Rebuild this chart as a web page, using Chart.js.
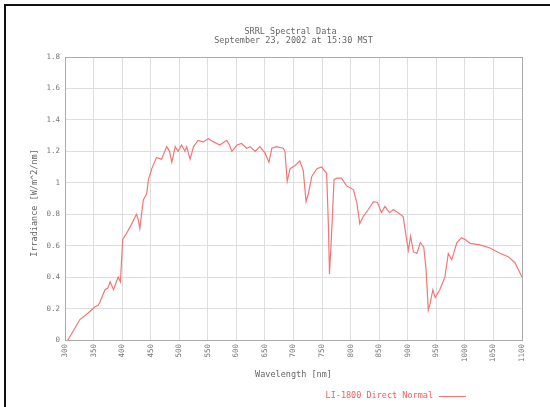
<!DOCTYPE html>
<html>
<head>
<meta charset="utf-8">
<script src="https://cdn.jsdelivr.net/npm/chart.js@4"></script>
<style>
html,body{margin:0;padding:0;background:#fff;}
#wrap{width:550px;height:407px;position:relative;}
</style>
</head>
<body>
<div id="wrap"><canvas id="c" width="550" height="407"></canvas></div>
<script>
const titleLines = ["SRRL Spectral Data", "September 23, 2002 at 15:30 MST"];
const xTitle = "Wavelength [nm]";
const yTitle = "Irradiance [W/m^2/nm]";
const seriesName = "LI-1800 Direct Normal";

const wavelength = [305,315,326,340,352,358,361,370,375,379,385,390,393,397,401,408,417,425,428,431,437,443,446,452,460,469,478,483,487,493,498,504,510,513,519,525,533,542,551,560,571,583,588,592,601,609,618,624,633,641,650,657,662,670,682,685,689,694,703,711,717,722,726,732,741,749,758,761,763,767,771,776,784,793,805,811,816,822,831,840,847,854,860,868,875,883,892,898,901,905,910,916,922,928,932,936,939,944,948,956,965,971,977,986,994,1000,1009,1026,1044,1062,1076,1088,1100];
const irradiance = [0.0,0.06,0.13,0.17,0.21,0.22,0.24,0.32,0.33,0.37,0.32,0.37,0.40,0.37,0.64,0.68,0.74,0.80,0.77,0.71,0.89,0.93,1.02,1.09,1.16,1.15,1.23,1.20,1.13,1.23,1.20,1.24,1.20,1.23,1.15,1.23,1.27,1.26,1.28,1.26,1.24,1.27,1.24,1.20,1.24,1.25,1.22,1.23,1.20,1.23,1.19,1.13,1.22,1.23,1.22,1.20,1.01,1.09,1.11,1.14,1.08,0.88,0.93,1.04,1.09,1.10,1.06,0.74,0.42,0.70,1.02,1.03,1.03,0.98,0.955,0.87,0.74,0.785,0.83,0.88,0.875,0.81,0.85,0.81,0.83,0.81,0.785,0.64,0.57,0.66,0.56,0.55,0.62,0.59,0.45,0.19,0.23,0.32,0.27,0.32,0.40,0.55,0.51,0.62,0.65,0.64,0.615,0.605,0.585,0.55,0.53,0.49,0.40];
const xMin = 300, xMax = 1100, xStep = 50;
const yMin = 0, yMax = 1.8, yStep = 0.2;

const MONO = "'DejaVu Sans Mono', monospace";
const lineColor = "#f07878";
const textColor = "#777";

const points = wavelength.map((w, i) => ({x: w, y: irradiance[i]}));

const decorPlugin = {
  id: 'decor',
  afterDraw(chart) {
    const ctx = chart.ctx;
    const a = chart.chartArea;
    ctx.save();
    ctx.strokeStyle = '#aaa';
    ctx.lineWidth = 1;
    ctx.strokeRect(Math.round(a.left) + 0.5, Math.round(a.top) + 0.5, Math.round(a.right - a.left), Math.round(a.bottom - a.top));
    ctx.strokeStyle = '#111';
    ctx.lineWidth = 2;
    ctx.beginPath();
    ctx.moveTo(5, 407); ctx.lineTo(5, 5); ctx.lineTo(550, 5);
    ctx.stroke();
    ctx.fillStyle = '#666';
    ctx.font = '8.5px ' + MONO;
    ctx.textAlign = 'center';
    ctx.textBaseline = 'middle';
    const cx = (a.left + a.right) / 2;
    ctx.fillText(titleLines[0], cx - 3, 32);
    ctx.fillText(titleLines[1], cx, 41);
    ctx.fillText(xTitle, cx, 375);
    ctx.save();
    ctx.translate(35, 203);
    ctx.rotate(-Math.PI / 2);
    ctx.fillText(yTitle, 0, 0);
    ctx.restore();
    ctx.fillStyle = '#f06060';
    ctx.textAlign = 'right';
    ctx.fillText(seriesName, 433, 396);
    ctx.strokeStyle = lineColor;
    ctx.lineWidth = 1;
    ctx.beginPath();
    ctx.moveTo(439, 396.5); ctx.lineTo(466, 396.5);
    ctx.stroke();
    ctx.restore();
  }
};

new Chart(document.getElementById('c'), {
  type: 'line',
  data: {
    datasets: [{
      label: seriesName,
      data: points,
      borderColor: lineColor,
      borderWidth: 1.2,
      pointRadius: 0,
      tension: 0,
      fill: false
    }]
  },
  options: {
    responsive: false,
    animation: false,
    devicePixelRatio: 1,
    layout: {padding: {left: 0, top: 57, right: 28, bottom: 0}},
    plugins: {
      legend: {display: false},
      title: {display: false},
      tooltip: {enabled: false}
    },
    scales: {
      x: {
        type: 'linear',
        min: xMin, max: xMax,
        ticks: {
          stepSize: xStep,
          maxRotation: 90, minRotation: 90,
          color: textColor,
          font: {family: MONO, size: 7.5},
          padding: 4,
          callback: v => String(Math.round(v))
        },
        grid: {color: '#dedede', drawTicks: false},
        border: {color: '#aaa'},
        afterFit(s) { s.height = 67; }
      },
      y: {
        min: yMin, max: yMax,
        ticks: {
          stepSize: yStep,
          color: textColor,
          font: {family: MONO, size: 7.5},
          padding: 5,
          callback: v => String(Number(v.toFixed(1)))
        },
        grid: {color: '#dedede', drawTicks: false},
        border: {color: '#aaa'},
        afterFit(s) { s.width = 65; }
      }
    }
  },
  plugins: [decorPlugin]
});
</script>
</body>
</html>
